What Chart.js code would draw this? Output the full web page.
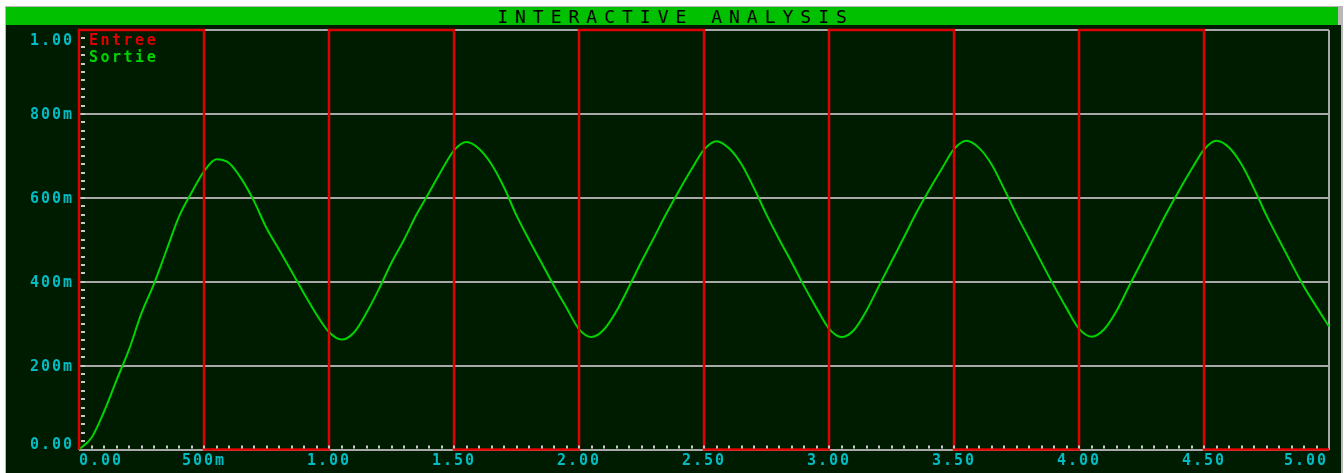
<!DOCTYPE html>
<html>
<head>
<meta charset="utf-8">
<title>Interactive Analysis</title>
<script src="https://cdn.jsdelivr.net/npm/chart.js@4.4.0/dist/chart.umd.min.js"></script>
<style>
  html, body { margin: 0; padding: 0; background: #fff; width: 1344px; height: 473px; overflow: hidden; }
  #frame { position: absolute; left: 5px; top: 6px; width: 1338px; height: 467px; background: #b8b8b8; }
  #title {
    position: absolute; left: 6px; top: 7px; width: 1332px; height: 18px;
    background: #00c000; color: #000;
    font: 18px "DejaVu Sans Mono", monospace; letter-spacing: 7px; text-indent: 7px;
    text-align: center; line-height: 19px;
  }
  #wrap { position: absolute; left: 6px; top: 25px; width: 1335px; height: 448px; background: #001c00; }
</style>
</head>
<body>
<div id="frame"></div>
<div id="title">INTERACTIVE ANALYSIS</div>
<div id="wrap"><canvas id="myChart"></canvas></div>
<script>
/* ================================
   data
================================ */
var seriesNames = ['Entree', 'Sortie'];

// input square wave: level after each edge (stepped)
var inTimes  = [0, 0, 0.5, 1.0, 1.5, 2.0, 2.5, 3.0, 3.5, 4.0, 4.5, 5.0];
var inLevels = [0, 1, 0,   1,   0,   1,   0,   1,   0,   1,   0,   0];

// output, every 50 ms
var outTimes = [
  0.00, 0.05, 0.10, 0.15, 0.20, 0.25, 0.30, 0.35, 0.40, 0.45,
  0.50, 0.55, 0.60, 0.65, 0.70, 0.75, 0.80, 0.85, 0.90, 0.95,
  1.00, 1.05, 1.10, 1.15, 1.20, 1.25, 1.30, 1.35, 1.40, 1.45,
  1.50, 1.55, 1.60, 1.65, 1.70, 1.75, 1.80, 1.85, 1.90, 1.95,
  2.00, 2.05, 2.10, 2.15, 2.20, 2.25, 2.30, 2.35, 2.40, 2.45,
  2.50, 2.55, 2.60, 2.65, 2.70, 2.75, 2.80, 2.85, 2.90, 2.95,
  3.00, 3.05, 3.10, 3.15, 3.20, 3.25, 3.30, 3.35, 3.40, 3.45,
  3.50, 3.55, 3.60, 3.65, 3.70, 3.75, 3.80, 3.85, 3.90, 3.95,
  4.00, 4.05, 4.10, 4.15, 4.20, 4.25, 4.30, 4.35, 4.40, 4.45,
  4.50, 4.55, 4.60, 4.65, 4.70, 4.75, 4.80, 4.85, 4.90, 4.95,
  5.00
];
var outValues = [
  0.000, 0.028, 0.090, 0.165, 0.238, 0.325, 0.395, 0.475, 0.555, 0.612,
  0.663, 0.692, 0.683, 0.645, 0.592, 0.528, 0.477, 0.425, 0.372, 0.322,
  0.280, 0.262, 0.279, 0.326, 0.383, 0.445, 0.500, 0.560, 0.612, 0.665,
  0.713, 0.733, 0.717, 0.680, 0.625, 0.558, 0.500, 0.445, 0.390, 0.338,
  0.287, 0.268, 0.286, 0.330, 0.388, 0.448, 0.505, 0.563, 0.617, 0.668,
  0.715, 0.735, 0.718, 0.680, 0.623, 0.560, 0.502, 0.447, 0.390, 0.337,
  0.288, 0.268, 0.285, 0.331, 0.390, 0.448, 0.506, 0.565, 0.618, 0.668,
  0.716, 0.736, 0.719, 0.680, 0.622, 0.560, 0.503, 0.446, 0.390, 0.337,
  0.288, 0.269, 0.286, 0.330, 0.389, 0.447, 0.505, 0.563, 0.617, 0.668,
  0.715, 0.736, 0.720, 0.680, 0.622, 0.558, 0.500, 0.443, 0.388, 0.340,
  0.293
];

// axis labels
var xTickValues = [0, 0.5, 1.0, 1.5, 2.0, 2.5, 3.0, 3.5, 4.0, 4.5, 5.0];
var xTickLabels = ['0.00', '500m', '1.00', '1.50', '2.00', '2.50', '3.00', '3.50', '4.00', '4.50', '5.00'];
var yTickValues = [0, 0.2, 0.4, 0.6, 0.8, 1.0];
var yTickLabels = ['0.00', '200m', '400m', '600m', '800m', '1.00'];

var RED = '#e00000';
var GREEN = '#00d400';
var CYAN = '#00bcc4';
var GRID = '#a8a8a8';
var FONT = 'bold 15px "DejaVu Sans Mono", monospace';

// labels, legend and small ticks, all placed with the chart scales
const decorations = {
  id: 'decorations',
  afterDraw(chart) {
    const c = chart.ctx;
    const xs = chart.scales.x;
    const ys = chart.scales.y;
    const area = chart.chartArea;
    c.save();

    // minor ticks
    c.fillStyle = '#c8c8c8';
    for (let i = 1; i < 100; i++) {
      const px = Math.round(xs.getPixelForValue(i * 0.05));
      c.fillRect(px - 1, area.bottom - 4, 2, 3);
    }
    for (let i = 1; i < 50; i++) {
      const py = Math.round(ys.getPixelForValue(i * 0.02));
      c.fillRect(area.left + 2, py - 1, 4, 2);
    }

    c.font = FONT;
    c.letterSpacing = '2px';
    c.fillStyle = CYAN;

    // y labels
    c.textAlign = 'right';
    c.textBaseline = 'alphabetic';
    yTickValues.forEach((v, i) => {
      let py = ys.getPixelForValue(v) + 5.5;
      if (i === 0) py = area.bottom - 0.5;
      if (i === yTickValues.length - 1) py = area.top + 15;
      c.fillText(yTickLabels[i], area.left - 5, py);
    });

    // x labels
    xTickValues.forEach((v, i) => {
      const px = xs.getPixelForValue(v);
      if (i === 0) { c.textAlign = 'left'; c.fillText(xTickLabels[i], px, area.bottom + 15.5); }
      else if (i === xTickValues.length - 1) { c.textAlign = 'right'; c.fillText(xTickLabels[i], px - 1, area.bottom + 15.5); }
      else { c.textAlign = 'center'; c.fillText(xTickLabels[i], px, area.bottom + 15.5); }
    });

    // legend
    c.letterSpacing = '2.5px';
    c.textAlign = 'left';
    c.fillStyle = RED;
    c.fillText(seriesNames[0], area.left + 10, area.top + 15);
    c.fillStyle = GREEN;
    c.fillText(seriesNames[1], area.left + 10, area.top + 31.5);
    c.restore();
  }
};

const ctx = document.getElementById('myChart');
const myChart = new Chart(ctx, {
  type: 'line',
  data: {
    datasets: [{
      label: seriesNames[0],
      data: inTimes.map((t, i) => ({ x: t, y: inLevels[i] })),
      borderColor: RED,
      borderWidth: 2.5,
      stepped: true,
      pointRadius: 0,
      clip: 3
    }, {
      label: seriesNames[1],
      data: outTimes.map((t, i) => ({ x: t, y: outValues[i] })),
      borderColor: GREEN,
      borderWidth: 2,
      cubicInterpolationMode: 'monotone',
      pointRadius: 0,
      clip: 3
    }]
  },
  options: {
    responsive: true,
    maintainAspectRatio: false,
    animation: false,
    events: [],
    layout: { padding: { left: 73, right: 12, top: 5, bottom: 23.5 } },
    plugins: {
      legend: { display: false },
      title: { display: false },
      tooltip: { enabled: false }
    },
    scales: {
      x: {
        type: 'linear',
        min: 0,
        max: 5,
        ticks: { display: false, stepSize: 0.5 },
        grid: { color: GRID, lineWidth: 2, drawTicks: false },
        border: { display: false }
      },
      y: {
        min: 0,
        max: 1,
        ticks: { display: false, stepSize: 0.2 },
        grid: { color: GRID, lineWidth: 2, drawTicks: false },
        border: { display: false }
      }
    }
  },
  plugins: [decorations]
});
</script>
</body>
</html>
